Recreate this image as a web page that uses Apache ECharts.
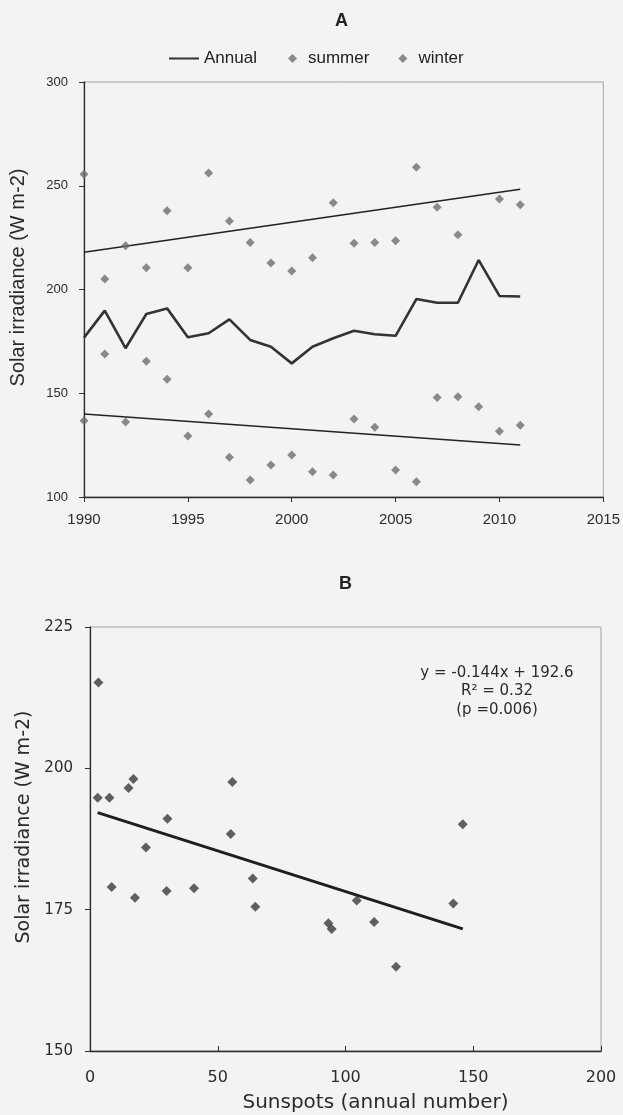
<!DOCTYPE html>
<html>
<head>
<meta charset="utf-8">
<script src="https://cdn.jsdelivr.net/npm/echarts@6/dist/echarts.min.js"></script>
<style>
  html, body { margin: 0; padding: 0; background: #f3f3f1; }
  #chart { width: 623px; height: 1115px; }
</style>
</head>
<body>
<div id="chart"></div>
<script>
// Panel A: solar irradiance by year
const years = [1990, 1991, 1992, 1993, 1994, 1995, 1996, 1997, 1998, 1999, 2000,
               2001, 2002, 2003, 2004, 2005, 2006, 2007, 2008, 2009, 2010, 2011];
const annual = [176.8, 189.8, 171.7, 188.2, 190.9, 177.0, 178.9, 185.6, 175.7, 172.4, 164.4,
                172.4, 176.5, 180.1, 178.4, 177.7, 195.4, 193.6, 193.6, 214.2, 196.9, 196.6];
const summer = [255.5, 205.1, 221.1, 210.5, 238.0, 210.5, 256.1, 233.0, 222.7, 212.8, 208.9,
                215.3, 241.8, 222.3, 222.7, 223.5, 258.9, 239.6, 226.4, null, 243.6, 240.9];
const winter = [136.8, 168.9, 136.1, 165.4, 156.7, 129.4, 140.0, 119.1, 108.2, 115.4, 120.2,
                112.2, 110.6, 137.6, 133.6, 113.0, 107.4, 148.0, 148.3, 143.5, 131.7, 134.6];
// seasonal trend lines (start and end of the record)
const trendYears = [1990, 2011];
const summerTrend = [217.9, 248.3];
const winterTrend = [140.0, 125.1];

// Panel B: annual irradiance against sunspot number
const sunspots = [3.3, 3.0, 7.6, 15.1, 17.0, 30.3, 55.7, 55.1, 21.9, 8.5, 17.6,
                  30.0, 40.7, 63.7, 64.7, 93.3, 94.6, 104.4, 111.2, 119.8, 142.2, 145.9];
const irradiance = [215.2, 194.8, 194.8, 196.5, 198.1, 191.1, 197.6, 188.4, 186.0, 179.0, 177.1,
                    178.3, 178.8, 180.5, 175.5, 172.6, 171.6, 176.6, 172.8, 164.9, 176.1, 190.1];
const fitSlope = -0.144;
const fitIntercept = 192.6;
const fitLabel = ['y = -0.144x + 192.6', 'R\u00b2 = 0.32', '(p =0.006)'];

const fontA = "'Liberation Sans', Arial, sans-serif";
const fontB = "'DejaVu Sans', Verdana, sans-serif";

const pairs = (xs, ys) => xs.map((x, i) => [x, ys[i]]).filter(p => p[1] !== null);
const xMin = Math.min(...sunspots), xMax = Math.max(...sunspots);
const fitLine = [xMin, xMax].map(x => [x, fitSlope * x + fitIntercept]);

const chart = echarts.init(document.getElementById('chart'), null, { renderer: 'canvas' });

const axisBaseA = {
  axisLine: { show: true, lineStyle: { color: '#2e2e2e', width: 1.3 } },
  axisTick: { show: true, inside: false, length: 5, lineStyle: { color: '#2e2e2e' } },
  splitLine: { show: false },
  axisLabel: { color: '#2b2b2b', fontFamily: fontA }
};
const axisBaseB = {
  axisLine: { show: true, lineStyle: { color: '#2e2e2e', width: 1.3 } },
  axisTick: { show: true, length: 5, lineStyle: { color: '#2e2e2e' } },
  splitLine: { show: false },
  axisLabel: { color: '#2b2b2b', fontFamily: fontB }
};

chart.setOption({
  backgroundColor: '#f3f3f1',
  animation: false,
  title: [
    { text: 'A', left: 330, top: 7, textStyle: { fontFamily: fontA, fontSize: 18, fontWeight: 'bold', color: '#222' } },
    { text: 'B', left: 334, top: 570, textStyle: { fontFamily: fontA, fontSize: 18, fontWeight: 'bold', color: '#222' } }
  ],
  legend: [
    {
      data: [{ name: 'Annual', icon: 'rect' }],
      left: 164, top: 45, itemWidth: 30, itemHeight: 2,
      textStyle: { fontFamily: fontA, fontSize: 17, color: '#222' }
    },
    {
      data: [{ name: 'summer', icon: 'diamond' }, { name: 'winter', icon: 'diamond' }],
      left: 283, top: 45, itemWidth: 9, itemHeight: 9, itemGap: 29,
      textStyle: { fontFamily: fontA, fontSize: 17, color: '#222', padding: [0, 0, 0, 6] }
    }
  ],
  grid: [
    { left: 84, top: 82, width: 520, height: 415, show: true, borderColor: '#a3a3a3', borderWidth: 1, backgroundColor: 'transparent' },
    { left: 90, top: 627, width: 511, height: 424, show: true, borderColor: '#a3a3a3', borderWidth: 1, backgroundColor: 'transparent' }
  ],
  xAxis: [
    Object.assign({}, axisBaseA, {
      gridIndex: 0, type: 'value', min: 1990, max: 2015, interval: 5,
      axisLabel: Object.assign({}, axisBaseA.axisLabel, { fontSize: 15, margin: 15, formatter: v => String(v) })
    }),
    Object.assign({}, axisBaseB, {
      gridIndex: 1, type: 'value', min: 0, max: 200, interval: 50,
      axisTick: { show: true, inside: true, length: 5, lineStyle: { color: '#2e2e2e' } },
      axisLabel: Object.assign({}, axisBaseB.axisLabel, { fontSize: 16, margin: 19 }),
      name: 'Sunspots (annual number)', nameLocation: 'middle', nameGap: 42,
      nameTextStyle: { fontFamily: fontB, fontSize: 20, color: '#2b2b2b', padding: [0, 0, 0, 60] }
    })
  ],
  yAxis: [
    Object.assign({}, axisBaseA, {
      gridIndex: 0, type: 'value', min: 100, max: 300, interval: 50,
      axisLabel: Object.assign({}, axisBaseA.axisLabel, { fontSize: 13, margin: 16 }),
      name: 'Solar irradiance (W m-2)', nameLocation: 'middle', nameGap: 56, nameRotate: 90,
      nameTextStyle: { fontFamily: fontA, fontSize: 20, color: '#2b2b2b', padding: [0, 0, 0, 24] }
    }),
    Object.assign({}, axisBaseB, {
      gridIndex: 1, type: 'value', min: 150, max: 225, interval: 25,
      axisLabel: Object.assign({}, axisBaseB.axisLabel, { fontSize: 15, margin: 17 }),
      name: 'Solar irradiance (W m-2)', nameLocation: 'middle', nameGap: 55, nameRotate: 90,
      nameTextStyle: { fontFamily: fontB, fontSize: 19, color: '#2b2b2b', padding: [0, 0, 0, 24] }
    })
  ],
  graphic: fitLabel.map((line, i) => ({
    type: 'text', x: 497, y: 673 + i * 18.5,
    style: {
      text: line, fontFamily: fontB, fontSize: 15,
      fill: '#2b2b2b', align: 'center', verticalAlign: 'middle'
    }
  })),
  series: [
    {
      name: 'summer trend', type: 'line', xAxisIndex: 0, yAxisIndex: 0,
      data: pairs(trendYears, summerTrend), showSymbol: false, silent: true,
      lineStyle: { color: '#222', width: 1.5 }, z: 2
    },
    {
      name: 'winter trend', type: 'line', xAxisIndex: 0, yAxisIndex: 0,
      data: pairs(trendYears, winterTrend), showSymbol: false, silent: true,
      lineStyle: { color: '#222', width: 1.5 }, z: 2
    },
    {
      name: 'Annual', type: 'line', xAxisIndex: 0, yAxisIndex: 0,
      data: pairs(years, annual), showSymbol: false,
      itemStyle: { color: '#333' },
      lineStyle: { color: '#333', width: 2.6 }, z: 3
    },
    {
      name: 'summer', type: 'scatter', xAxisIndex: 0, yAxisIndex: 0,
      data: pairs(years, summer), symbol: 'diamond', symbolSize: 9,
      itemStyle: { color: '#6e6e6e' }, z: 4
    },
    {
      name: 'winter', type: 'scatter', xAxisIndex: 0, yAxisIndex: 0,
      data: pairs(years, winter), symbol: 'diamond', symbolSize: 9,
      itemStyle: { color: '#6e6e6e' }, z: 4
    },
    {
      name: 'annual vs sunspots', type: 'scatter', xAxisIndex: 1, yAxisIndex: 1,
      data: pairs(sunspots, irradiance), symbol: 'diamond', symbolSize: 10,
      itemStyle: { color: '#3a3a3a' }, z: 4
    },
    {
      name: 'linear fit', type: 'line', xAxisIndex: 1, yAxisIndex: 1,
      data: fitLine, showSymbol: false, silent: true,
      lineStyle: { color: '#1e1e1e', width: 3 }, z: 3
    }
  ]
});
</script>
</body>
</html>
